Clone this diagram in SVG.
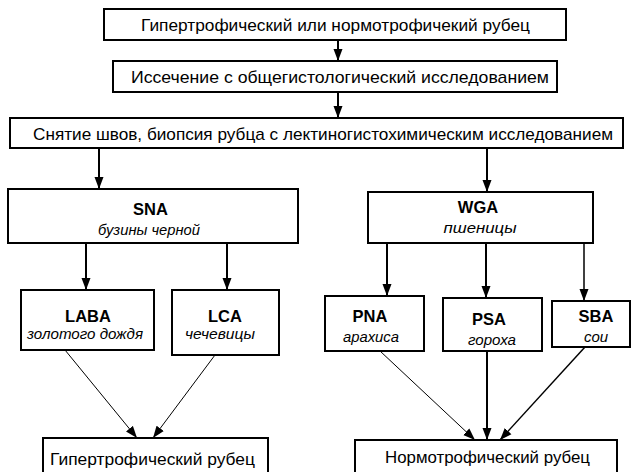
<svg xmlns="http://www.w3.org/2000/svg" width="631" height="472" viewBox="0 0 631 472">
<style>
rect.b{fill:#fff;stroke:#000;stroke-width:2}
text{font-family:"Liberation Sans",Arial,sans-serif;fill:#000;text-anchor:middle}
.t{font-size:17px}
.h{font-size:16.5px;font-weight:bold}
.i{font-size:15px;font-style:italic}
.c line{stroke:#000;fill:none}
.v{stroke-width:2}
.d{stroke-width:1}
</style>
<defs>
<marker id="ah" markerUnits="userSpaceOnUse" markerWidth="12" markerHeight="10" refX="12" refY="5" orient="auto" viewBox="0 0 12 10">
<path d="M0,0.5 L12,5 L0,9.5 z" fill="#000"/>
</marker>
</defs>
<rect width="631" height="472" fill="#fff"/>
<g class="c">
<line class="v" x1="338" y1="40" x2="338" y2="61" marker-end="url(#ah)"/>
<line class="v" x1="338" y1="92" x2="338" y2="118" marker-end="url(#ah)"/>
<line class="v" x1="99" y1="148" x2="99" y2="189" marker-end="url(#ah)"/>
<line class="v" x1="487" y1="148" x2="487" y2="192" marker-end="url(#ah)"/>
<line class="v" x1="86" y1="243" x2="86" y2="290" marker-end="url(#ah)"/>
<line class="v" x1="227" y1="243" x2="227" y2="290" marker-end="url(#ah)"/>
<line class="v" x1="387" y1="243" x2="387" y2="296" marker-end="url(#ah)"/>
<line class="v" x1="486" y1="243" x2="486" y2="298" marker-end="url(#ah)"/>
<line x1="584" y1="243" x2="584" y2="301" stroke-width="1.5" marker-end="url(#ah)"/>
<line class="d" x1="65" y1="350" x2="137" y2="438" marker-end="url(#ah)"/>
<line class="d" x1="215" y1="355" x2="153" y2="438" marker-end="url(#ah)"/>
<line class="d" x1="380" y1="351" x2="475" y2="440" marker-end="url(#ah)"/>
<line class="v" x1="487" y1="351" x2="487" y2="440" marker-end="url(#ah)"/>
<line x1="585" y1="347" x2="500" y2="440" stroke-width="1.5" marker-end="url(#ah)"/>
</g>
<g id="n1"><rect class="b" x="104" y="9" width="462" height="31"/><text class="t" x="335.5" y="30.5" textLength="389" lengthAdjust="spacingAndGlyphs">Гипертрофический или нормотрофичекий рубец</text></g>
<g id="n2"><rect class="b" x="113" y="61" width="444" height="31"/><text class="t" x="340" y="82.5" textLength="418" lengthAdjust="spacingAndGlyphs">Иссечение с общегистологический исследованием</text></g>
<g id="n3"><rect class="b" x="10" y="118" width="613" height="30"/><text class="t" x="323" y="139.5" textLength="580" lengthAdjust="spacingAndGlyphs">Снятие швов, биопсия рубца с лектиногистохимическим исследованием</text></g>
<g id="sna"><rect class="b" x="8" y="189" width="290" height="54"/><text class="h" x="150.5" y="215">SNA</text><text class="i" x="149" y="235" textLength="102" lengthAdjust="spacingAndGlyphs">бузины черной</text></g>
<g id="wga"><rect class="b" x="368" y="192" width="225" height="51"/><text class="h" x="478" y="213">WGA</text><text class="i" x="480" y="233" textLength="73" lengthAdjust="spacingAndGlyphs">пшеницы</text></g>
<g id="laba"><rect class="b" x="21" y="290" width="133" height="60"/><text class="h" x="88" y="322">LABA</text><text class="i" x="85" y="339" textLength="116" lengthAdjust="spacingAndGlyphs">золотого дождя</text></g>
<g id="lca"><rect class="b" x="172" y="290" width="107" height="65"/><text class="h" x="225" y="322">LCA</text><text class="i" x="220" y="339" textLength="70" lengthAdjust="spacingAndGlyphs">чечевицы</text></g>
<g id="pna"><rect class="b" x="325" y="296" width="99" height="55"/><text class="h" x="370" y="322">PNA</text><text class="i" x="371" y="342" textLength="56" lengthAdjust="spacingAndGlyphs">арахиса</text></g>
<g id="psa"><rect class="b" x="443" y="298" width="99" height="53"/><text class="h" x="489" y="325">PSA</text><text class="i" x="492" y="345" textLength="48" lengthAdjust="spacingAndGlyphs">гороха</text></g>
<g id="sba"><rect class="b" x="552" y="301" width="78" height="46"/><text class="h" x="596" y="322">SBA</text><text class="i" x="596" y="342">сои</text></g>
<g id="hyp"><rect class="b" x="43" y="438" width="225" height="40"/><text class="t" x="152.5" y="465" textLength="205" lengthAdjust="spacingAndGlyphs">Гипертрофический рубец</text></g>
<g id="norm"><rect class="b" x="355" y="440" width="262" height="36"/><text class="t" x="487.5" y="463" textLength="205" lengthAdjust="spacingAndGlyphs">Нормотрофический рубец</text></g>
</svg>
